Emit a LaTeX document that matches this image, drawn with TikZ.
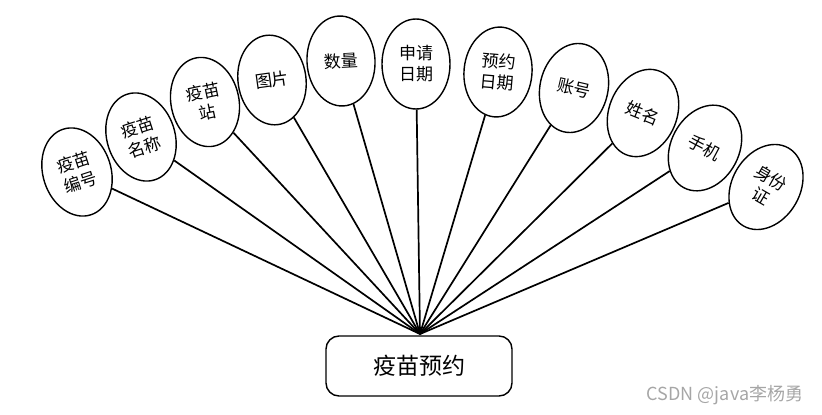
\documentclass[tikz,border=0pt]{standalone}
\usepackage{fontspec}
\newfontfamily\cjk{Noto Sans CJK SC}
\usetikzlibrary{shapes.geometric}
\tikzset{
  atributo/.style={ellipse, draw, line width=1.4pt, minimum width=68pt, minimum height=90pt,
    inner sep=0pt, align=center, font=\cjk\fontsize{17}{21}\selectfont},
  entidad/.style={rectangle, rounded corners=13pt, draw, line width=1.4pt, minimum width=186pt,
    minimum height=60pt, font=\cjk\fontsize{23}{26}\selectfont},
  enlace/.style={line width=1.7pt}
}
\begin{document}
\begin{tikzpicture}[x=1pt, y=-1pt]
    \useasboundingbox (0,0) rectangle (822,415);
    % Entidad
    \node[entidad] (yuyue) at (419,366) {疫苗预约};
    \coordinate (hub) at (420,334);
    % Atributos
    \node[atributo, rotate=18] (bianhao) at (77,172) {疫苗\\编号};
    \node[atributo, rotate=18] (mingcheng) at (141,137) {疫苗\\名称};
    \node[atributo, rotate=12] (zhan) at (205,102) {疫苗\\站};
    \node[atributo, rotate=8] (tupian) at (272,80) {图片};
    \node[atributo, rotate=3] (shuliang) at (341,61) {数量};
    \node[atributo] (shenqing) at (416,64) {申请\\日期};
    \node[atributo, rotate=-5] (riqi) at (498,72) {预约\\日期};
    \node[atributo, rotate=-13] (zhanghao) at (574,88) {账号};
    \node[atributo, rotate=-22] (xingming) at (643,113) {姓名};
    \node[atributo, rotate=-28] (shouji) at (705,148) {手机};
    \node[atributo, rotate=-30] (sfz) at (766,187) {身份\\证};
    % Enlaces
    \foreach \a in {bianhao,mingcheng,zhan,tupian,shuliang,shenqing,riqi,zhanghao,xingming,shouji,sfz}
      \draw[enlace] (hub) -- (\a);
    % Marca
    \node[text=black!35, font=\fontsize{18}{20}\selectfont\cjk] (marca) at (725,395) {CSDN @java李杨勇};
\end{tikzpicture}
\end{document}
